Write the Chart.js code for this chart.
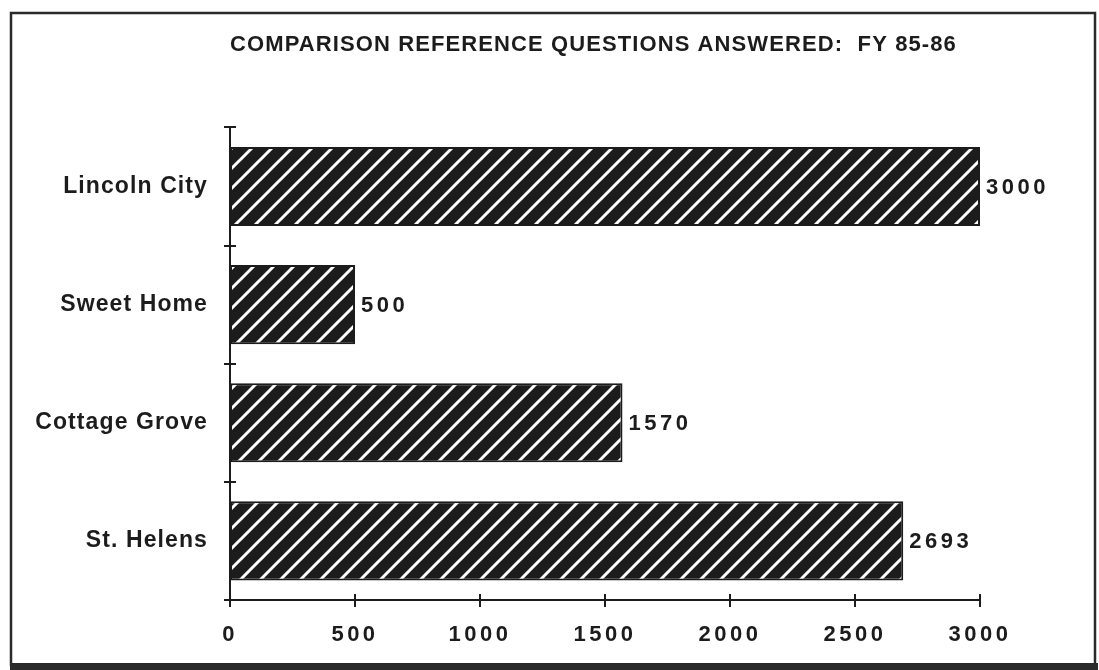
<!DOCTYPE html>
<html>
<head>
<meta charset="utf-8">
<script src="https://cdn.jsdelivr.net/npm/chart.js@4/dist/chart.umd.min.js"></script>
<style>
  html, body { margin: 0; padding: 0; background: #fff; }
  #wrap { width: 1099px; height: 670px; }
</style>
</head>
<body>
<div id="wrap"><canvas id="c" width="1099" height="670"></canvas></div>
<script>
// Reference questions answered, FY 85-86
const libraries = ['Lincoln City', 'Sweet Home', 'Cottage Grove', 'St. Helens'];
const answered = [3000, 500, 1570, 2693];
const xTicks = [0, 500, 1000, 1500, 2000, 2500, 3000];

const INK = '#1c1c1c';
const FONT = '"Liberation Sans", Arial, Helvetica, sans-serif';
const TEXT_SPACING = '1.1px';
const NUM_SPACING = '3.5px';

// Dark fill with white diagonal stripes
function hatchPattern() {
  const s = 20;
  const p = document.createElement('canvas');
  p.width = s; p.height = s;
  const g = p.getContext('2d');
  g.fillStyle = INK;
  g.fillRect(0, 0, s, s);
  g.strokeStyle = '#ffffff';
  g.lineWidth = 3;
  g.lineCap = 'square';
  [[0, s, s, 0], [-s / 2, s / 2, s / 2, -s / 2], [s / 2, s * 1.5, s * 1.5, s / 2]].forEach(([a, b, c, d]) => {
    g.beginPath(); g.moveTo(a, b); g.lineTo(c, d); g.stroke();
  });
  return g.createPattern(p, 'repeat');
}

// Page frame, tick marks crossing the axes and value labels
const decor = {
  id: 'decor',
  beforeDraw(chart) {
    const ctx = chart.ctx;
    ctx.save();
    ctx.fillStyle = '#fff';
    ctx.fillRect(0, 0, chart.width, chart.height);
    ctx.strokeStyle = '#2a2a2a';
    ctx.lineWidth = 2.5;
    ctx.strokeRect(11, 13, 1084, 652);
    ctx.fillStyle = '#2a2a2a';
    ctx.fillRect(10, 663, 1088, 7);
    ctx.restore();
    // title and category labels
    ctx.letterSpacing = TEXT_SPACING;
  },
  afterDatasetsDraw(chart) {
    const ctx = chart.ctx;
    const xs = chart.scales.x, ys = chart.scales.y;
    ctx.save();
    ctx.strokeStyle = INK;
    ctx.lineWidth = 2;
    // x ticks
    xTicks.forEach(v => {
      const px = Math.round(xs.getPixelForValue(v));
      ctx.beginPath(); ctx.moveTo(px, ys.bottom - 6); ctx.lineTo(px, ys.bottom + 7); ctx.stroke();
    });
    // y ticks at category boundaries
    for (let i = 0; i <= libraries.length; i++) {
      const py = Math.round(ys.getPixelForValue(i - 0.5));
      ctx.beginPath(); ctx.moveTo(xs.left - 6, py); ctx.lineTo(xs.left + 6, py); ctx.stroke();
    }
    // value labels
    ctx.fillStyle = INK;
    ctx.font = 'bold 22px ' + FONT;
    ctx.letterSpacing = NUM_SPACING;
    ctx.textAlign = 'left';
    ctx.textBaseline = 'middle';
    chart.getDatasetMeta(0).data.forEach((bar, i) => {
      ctx.fillText(String(answered[i]), bar.x + 6, bar.y + 1);
    });
    ctx.restore();
    // x tick labels are drawn after this point (z: 1) with the same spacing
    ctx.letterSpacing = NUM_SPACING;
  }
};

new Chart(document.getElementById('c'), {
  type: 'bar',
  data: {
    labels: libraries,
    datasets: [{
      data: answered,
      backgroundColor: hatchPattern(),
      borderColor: INK,
      borderWidth: 2,
      borderSkipped: false,
      categoryPercentage: 1,
      barPercentage: 0.67
    }]
  },
  options: {
    indexAxis: 'y',
    responsive: false,
    animation: false,
    events: [],
    layout: { padding: { left: 0, right: 119, top: 0, bottom: 0 } },
    plugins: {
      legend: { display: false },
      tooltip: { enabled: false },
      title: {
        display: true,
        fullSize: false,
        align: 'start',
        text: 'COMPARISON REFERENCE QUESTIONS ANSWERED:  FY 85-86',
        color: INK,
        font: { family: FONT, size: 22, weight: 'bold', lineHeight: 1.2 },
        padding: { top: 32, bottom: 69 }
      }
    },
    scales: {
      x: {
        min: 0, max: 3000,
        afterBuildTicks(scale) { scale.ticks = xTicks.map(v => ({ value: v })); },
        afterFit(scale) { scale.height = 70; },
        grid: { display: false },
        border: { display: true, color: INK, width: 2 },
        ticks: {
          color: INK, padding: 14, maxRotation: 0,
          callback: v => String(v),
          font: { family: FONT, size: 22, weight: 'bold' }, z: 1
        }
      },
      y: {
        offset: true,
        afterFit(scale) { scale.width = 230; },
        grid: { display: false, offset: true },
        border: { display: true, color: INK, width: 2 },
        ticks: { color: INK, padding: 14, font: { family: FONT, size: 23, weight: 'bold' } }
      }
    }
  },
  plugins: [decor]
});
</script>
</body>
</html>
